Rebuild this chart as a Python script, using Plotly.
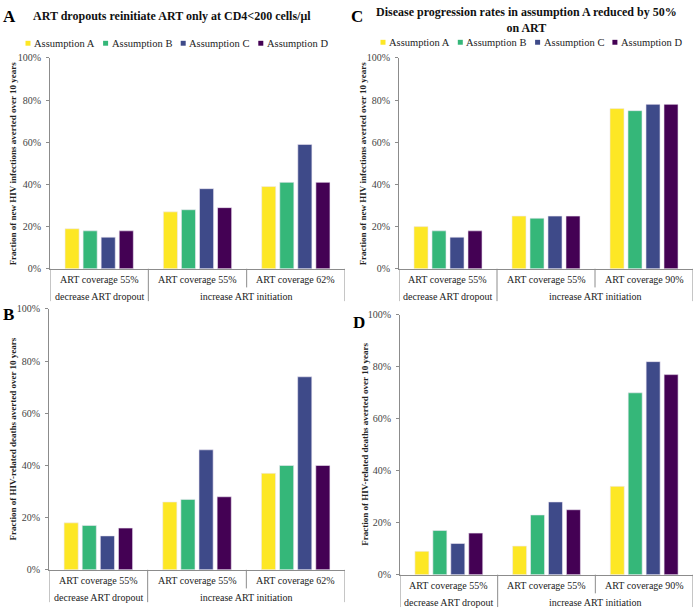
import plotly.graph_objects as go

W, H = 700, 616
FONT = "Liberation Serif, Times New Roman, serif"

series_names = ["Assumption A", "Assumption B", "Assumption C", "Assumption D"]
series_colors = ["#FDE725", "#35B779", "#3E4A89", "#440154"]

strategy_labels = ["decrease ART dropout", "increase ART initiation", "increase ART initiation"]
coverage_left = ["ART coverage 55%", "ART coverage 55%", "ART coverage 62%"]
coverage_right = ["ART coverage 55%", "ART coverage 55%", "ART coverage 90%"]
y_ticks = [0, 0.2, 0.4, 0.6, 0.8, 1.0]

# values per series (A, B, C, D), three scenarios each
panelA_values = [[0.19, 0.27, 0.39], [0.18, 0.28, 0.41], [0.15, 0.38, 0.59], [0.18, 0.29, 0.41]]
panelB_values = [[0.18, 0.26, 0.37], [0.17, 0.27, 0.40], [0.13, 0.46, 0.74], [0.16, 0.28, 0.40]]
panelC_values = [[0.20, 0.25, 0.76], [0.18, 0.24, 0.75], [0.15, 0.25, 0.78], [0.18, 0.25, 0.78]]
panelD_values = [[0.09, 0.11, 0.34], [0.17, 0.23, 0.70], [0.12, 0.28, 0.82], [0.16, 0.25, 0.77]]

title_A = "ART dropouts reinitiate ART only at CD4<200 cells/μl"
title_C = "Disease progression rates in assumption A reduced by 50%<br>on ART"
ytitle_inf = "Fraction of new HIV infections averted over 10 years"
ytitle_death = "Fraction of HIV-related deaths averted over 10 years"


def px(x):
    return x / W


def py(y):
    return 1 - y / H


# panel layout in pixels: (x0, x1, y_top, y_zero)
panels = [
    dict(key="A", values=panelA_values, cov=coverage_left, x0=50, x1=345, ytop=53, y0=268,
         ytitle=ytitle_inf, ytx=13, letter_xy=(9, 11)),
    dict(key="C", values=panelC_values, cov=coverage_right, x0=399, x1=693, ytop=53, y0=268,
         ytitle=ytitle_inf, ytx=363, letter_xy=(357, 11)),
    dict(key="B", values=panelB_values, cov=coverage_left, x0=49, x1=345, ytop=309, y0=575,
         ytitle=ytitle_death, ytx=13, letter_xy=(8, 315)),
    dict(key="D", values=panelD_values, cov=coverage_right, x0=400, x1=693, ytop=315, y0=580,
         ytitle=ytitle_death, ytx=365, letter_xy=(359, 323)),
]

fig = go.Figure()
annotations = []
shapes = []
layout_axes = {}

for i, p in enumerate(panels):
    n = "" if i == 0 else str(i + 1)
    xa, ya = "x" + n, "y" + n
    cats = list(range(len(p["cov"])))
    for s, name in enumerate(series_names):
        fig.add_trace(go.Bar(
            x=cats, y=p["values"][s], name=name, xaxis=xa, yaxis=ya,
            marker=dict(color=series_colors[s], line=dict(width=0.6, color="#EEE8F4")),
            showlegend=False, offsetgroup=str(s),
        ))
    layout_axes["xaxis" + n] = dict(
        domain=[px(p["x0"]), px(p["x1"])], anchor=ya, range=[-0.5, len(cats) - 0.5],
        showticklabels=False, ticks="", showgrid=False, zeroline=False,
        showline=True, linecolor="#8C8C8C", linewidth=1,
    )
    layout_axes["yaxis" + n] = dict(
        domain=[py(p["y0"]), py(p["ytop"])], anchor=xa, range=[0, 1],
        tickvals=y_ticks, tickformat=".0%", ticks="outside", ticklen=3,
        tickcolor="#8C8C8C", showgrid=False, zeroline=False,
        showline=True, linecolor="#8C8C8C", linewidth=1, ticklabelstandoff=3,
        tickfont=dict(family=FONT, size=10, color="#444444"),
    )
    # y-axis title
    annotations.append(dict(
        text="<b>" + p["ytitle"] + "</b>", xref="paper", yref="paper",
        x=px(p["ytx"]), y=py((p["ytop"] + p["y0"]) / 2), textangle=-90,
        showarrow=False, font=dict(family=FONT, size=9, color="#222222"),
        xanchor="center", yanchor="middle",
    ))
    # panel letter
    annotations.append(dict(
        text="<b>" + p["key"] + "</b>", xref="paper", yref="paper",
        x=px(p["letter_xy"][0]), y=py(p["letter_xy"][1]), showarrow=False,
        font=dict(family=FONT, size=17, color="#000000"), xanchor="center", yanchor="middle",
    ))
    # category table under axis
    y0 = p["y0"]
    for c, lab in enumerate(p["cov"]):
        annotations.append(dict(
            text=lab, xref=xa, yref="paper", x=c, y=py(y0 + 11), showarrow=False,
            font=dict(family=FONT, size=10, color="#222222"), xanchor="center", yanchor="middle",
        ))
    # outer groups
    groups = []
    for c, st in enumerate(strategy_labels):
        if groups and groups[-1][0] == st:
            groups[-1][2] = c
        else:
            groups.append([st, c, c])
    for st, a, b in groups:
        annotations.append(dict(
            text=st, xref=xa, yref="paper", x=(a + b) / 2, y=py(y0 + 28), showarrow=False,
            font=dict(family=FONT, size=10, color="#222222"), xanchor="center", yanchor="middle",
        ))
    # vertical dividers
    for c in range(len(cats) + 1):
        full = c == 0 or c == len(cats) or strategy_labels[c] != strategy_labels[c - 1]
        shapes.append(dict(
            type="line", xref=xa, yref="paper", x0=c - 0.5, x1=c - 0.5,
            y0=py(y0), y1=py(y0 + (33 if full else 19)),
            line=dict(color="#8C8C8C", width=1),
        ))

# titles
annotations.append(dict(
    text="<b>" + title_A + "</b>", xref="paper", yref="paper", x=px(172), y=py(10),
    showarrow=False, font=dict(family=FONT, size=12, color="#111111"),
    xanchor="center", yanchor="middle",
))
annotations.append(dict(
    text="<b>" + title_C + "</b>", xref="paper", yref="paper", x=px(526), y=py(14),
    showarrow=False, font=dict(family=FONT, size=12, color="#111111"),
    xanchor="center", yanchor="middle",
))

# legends (manual)
legend_specs = [(28, 38, 77.6), (383, 37, 77.3)]
for lx, ly, step in legend_specs:
    for s, name in enumerate(series_names):
        cx = lx + s * step
        shapes.append(dict(
            type="rect", xref="paper", yref="paper",
            x0=px(cx - 2.5), x1=px(cx + 2.5), y0=py(ly + 2.5), y1=py(ly - 2.5),
            fillcolor=series_colors[s], line=dict(width=0),
        ))
        annotations.append(dict(
            text=name, xref="paper", yref="paper", x=px(cx + 4), y=py(ly),
            showarrow=False, font=dict(family=FONT, size=10.5, color="#222222"),
            xanchor="left", yanchor="middle",
        ))

fig.update_layout(
    width=W, height=H, margin=dict(l=0, r=0, t=0, b=0),
    paper_bgcolor="white", plot_bgcolor="white",
    barmode="group", bargap=0.265, bargroupgap=0.22,
    showlegend=False, annotations=annotations, shapes=shapes,
    font=dict(family=FONT),
    **layout_axes,
)

fig.write_html(
    "out.html",
    config={"displayModeBar": False},
    post_script="document.body.style.margin='0';document.body.style.padding='0';"
                "document.body.style.overflow='hidden';",
)
